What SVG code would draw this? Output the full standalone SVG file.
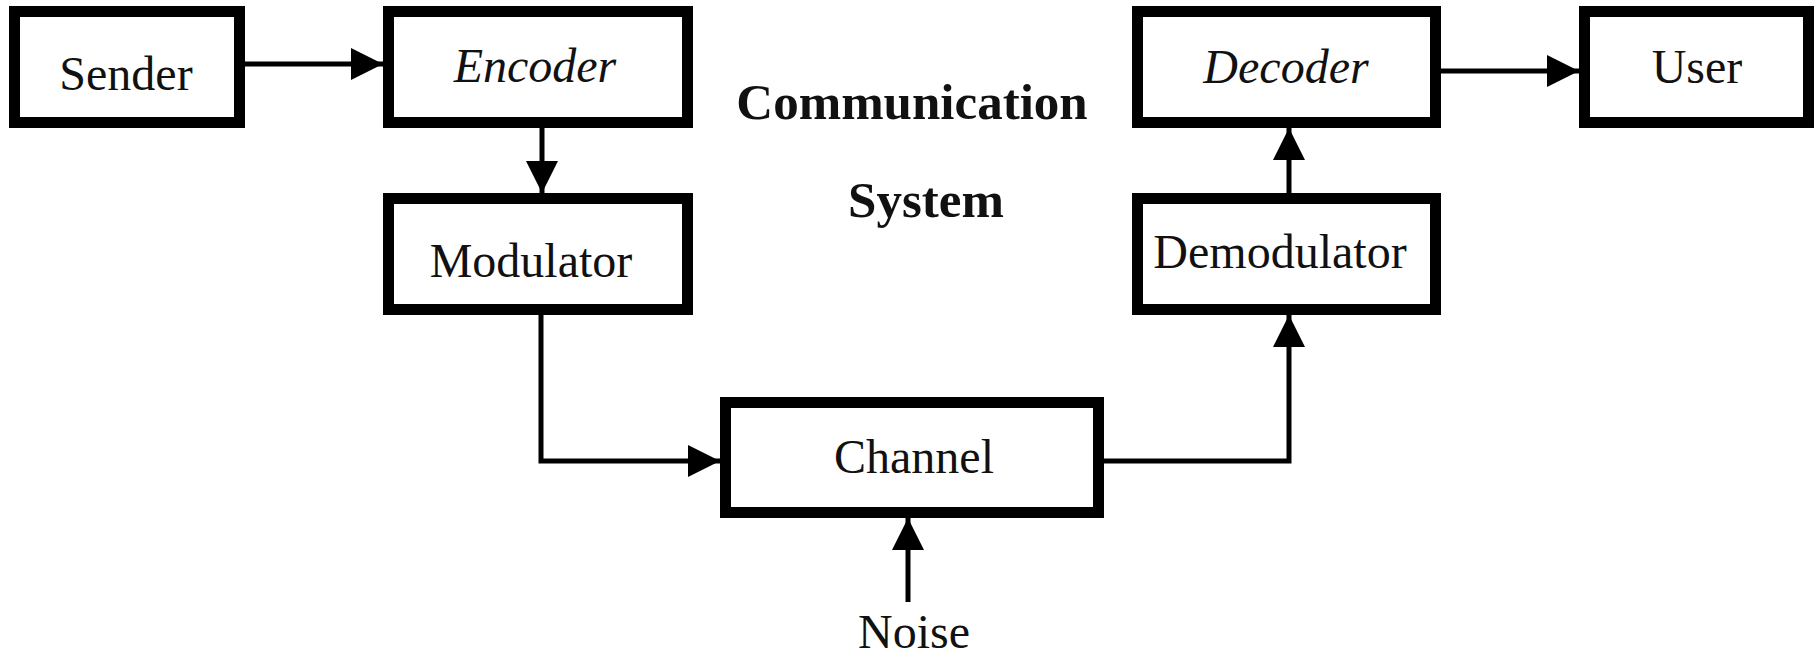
<svg xmlns="http://www.w3.org/2000/svg" width="1817" height="655" viewBox="0 0 1817 655">
<style>
.box{fill:#fff;stroke:#000;stroke-width:11}
.lbl{font-family:"Liberation Serif","Times New Roman",serif;font-size:48px;fill:#111;text-anchor:middle}
.it{font-style:italic}
.title{font-family:"Liberation Serif","Times New Roman",serif;font-size:51px;font-weight:bold;fill:#111;text-anchor:middle}
.conn{fill:none;stroke:#000;stroke-width:5}
</style>
<defs>
<marker id="ah" markerUnits="userSpaceOnUse" markerWidth="32" markerHeight="32" refX="32" refY="16" orient="auto">
<path d="M0,0 L32,16 L0,32 z" fill="#000"/>
</marker>
</defs>
<rect width="1817" height="655" fill="#fff"/>
<g id="connectors">
<path class="conn" d="M245,64 H383" marker-end="url(#ah)"/>
<path class="conn" d="M542,128 V193" marker-end="url(#ah)"/>
<path class="conn" d="M541,315 V461 H720" marker-end="url(#ah)"/>
<path class="conn" d="M1104,461 H1289 V315" marker-end="url(#ah)"/>
<path class="conn" d="M1289,193 V128" marker-end="url(#ah)"/>
<path class="conn" d="M1441,71 H1579" marker-end="url(#ah)"/>
<path class="conn" d="M908,602 V518" marker-end="url(#ah)"/>
</g>
<g id="sender"><rect class="box" x="14.5" y="11.5" width="225" height="111"/><text class="lbl" x="126" y="90">Sender</text></g>
<g id="encoder"><rect class="box" x="388.5" y="11.5" width="299" height="111"/><text class="lbl it" x="535" y="82">Encoder</text></g>
<g id="modulator"><rect class="box" x="388.5" y="198.5" width="299" height="111"/><text class="lbl" x="531" y="277">Modulator</text></g>
<g id="channel"><rect class="box" x="725.5" y="402.5" width="373" height="110"/><text class="lbl" x="914" y="473">Channel</text></g>
<g id="demodulator"><rect class="box" x="1137.5" y="198.5" width="298" height="111"/><text class="lbl" x="1280" y="268">Demodulator</text></g>
<g id="decoder"><rect class="box" x="1137.5" y="11.5" width="298" height="111"/><text class="lbl it" x="1286" y="83">Decoder</text></g>
<g id="user"><rect class="box" x="1584.5" y="11.5" width="224" height="111"/><text class="lbl" x="1697" y="83">User</text></g>
<g id="noise"><text class="lbl" x="914" y="648">Noise</text></g>
<g id="title"><text class="title" x="912" y="119">Communication</text><text class="title" x="926" y="217">System</text></g>
</svg>
